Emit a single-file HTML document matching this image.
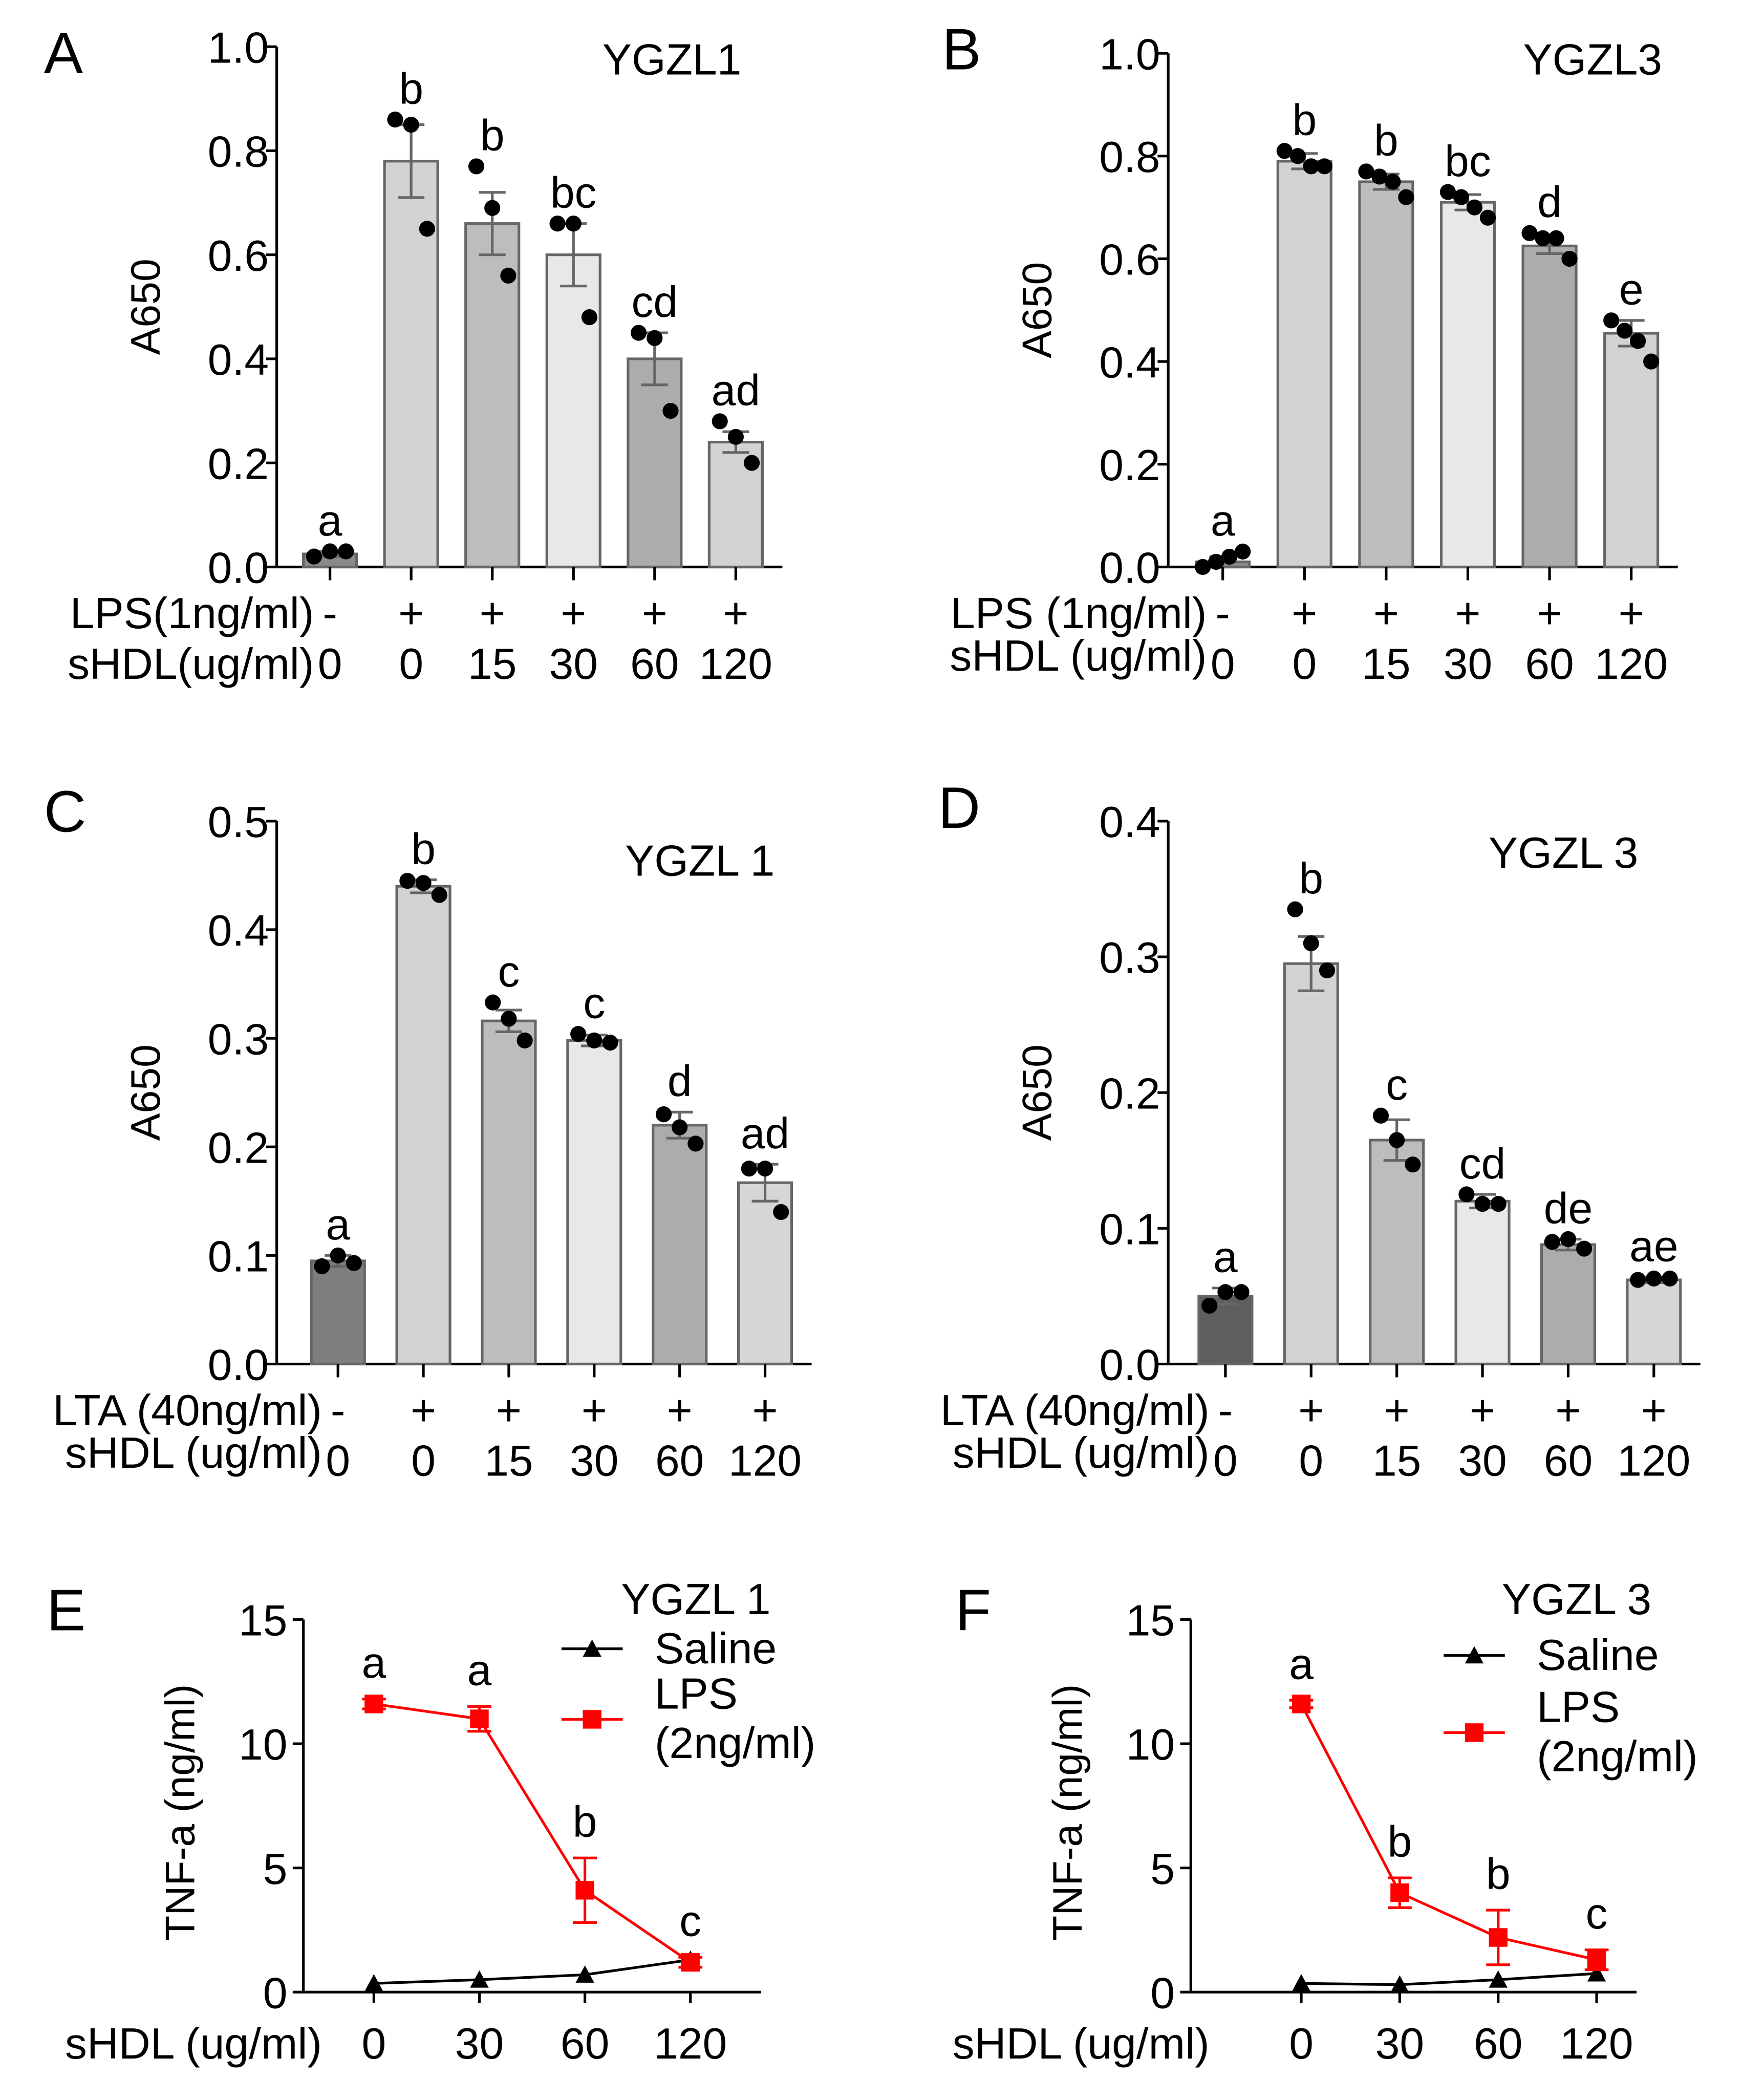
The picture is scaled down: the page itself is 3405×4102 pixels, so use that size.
<!DOCTYPE html>
<html><head><meta charset="utf-8"><style>
html,body{margin:0;padding:0;background:#fff;}
svg{display:block;}
text{font-family:"Liberation Sans",Arial,sans-serif;fill:#000;}
</style></head><body>
<svg id="fig" width="3405" height="4102" viewBox="0 0 1310 1578" xmlns="http://www.w3.org/2000/svg"></svg>
<script>
// ---- Panel A data ----
const aVals=[0.025,0.78,0.66,0.60,0.40,0.24];
const aErr=[0.005,0.07,0.06,0.06,0.05,0.02];
const aPts=[[0.02,0.03,0.03],[0.86,0.85,0.65],[0.77,0.69,0.56],[0.66,0.66,0.48],[0.45,0.44,0.30],[0.28,0.25,0.20]];
const aLetters=["a","b","b","bc","cd","ad"];
const aTicks=["0.0","0.2","0.4","0.6","0.8","1.0"];
// ---- Panel B data ----
const bVals=[0.01,0.79,0.75,0.71,0.625,0.455];
const bErr=[0.01,0.015,0.015,0.015,0.015,0.025];
const bPts=[[0.0,0.01,0.02,0.03],[0.81,0.80,0.78,0.78],[0.77,0.76,0.75,0.72],[0.73,0.72,0.70,0.68],[0.65,0.64,0.64,0.60],[0.48,0.46,0.44,0.40]];
const bLetters=["a","b","b","bc","d","e"];
const bTicks=["0.0","0.2","0.4","0.6","0.8","1.0"];
// ---- Panel C data ----
const cVals=[0.095,0.44,0.316,0.298,0.22,0.167];
const cErr=[0.005,0.006,0.01,0.005,0.012,0.017];
const cPts=[[0.09,0.10,0.093],[0.445,0.443,0.432],[0.333,0.318,0.298],[0.304,0.298,0.296],[0.23,0.218,0.203],[0.18,0.18,0.14]];
const cLetters=["a","b","c","c","d","ad"];
const cTicks=["0.0","0.1","0.2","0.3","0.4","0.5"];
// ---- Panel D data ----
const dVals=[0.05,0.295,0.165,0.12,0.088,0.062];
const dErr=[0.006,0.02,0.015,0.005,0.004,0.002];
const dPts=[[0.043,0.053,0.053],[0.335,0.31,0.29],[0.183,0.165,0.147],[0.125,0.118,0.118],[0.09,0.092,0.085],[0.062,0.063,0.063]];
const dLetters=["a","b","c","cd","de","ae"];
const dTicks=["0.0","0.1","0.2","0.3","0.4"];
const sHDLbar=["0","0","15","30","60","120"];
const plusRow=["-","+","+","+","+","+"];
// ---- Panel E/F data ----
const doseLabels=["0","30","60","120"];
const eLPS=[11.6,11.0,4.1,1.2];
const eLPSerr=[0.2,0.5,1.3,0.2];
const eSal=[0.35,0.5,0.7,1.3];
const eLetters=["a","a","b","c"];
const fLPS=[11.6,4.0,2.2,1.3];
const fLPSerr=[0.15,0.6,1.1,0.4];
const fSal=[0.35,0.3,0.5,0.75];
const fLetters=["a","b","b","c"];
const lineTicks=["0","5","10","15"];

const FS=33;
const NS="http://www.w3.org/2000/svg";
const svg=document.getElementById('fig');
function mk(tag,attrs,parent,txt){const e=document.createElementNS(NS,tag);for(const k in attrs)e.setAttribute(k,attrs[k]);if(txt!==undefined)e.textContent=txt;(parent||svg).appendChild(e);return e;}

function barPanel(o){
  const g=mk('g',{});
  
  
  const y=v=>o.y0-(v/o.ymax)*(o.y0-o.ytop);
  const x=i=>o.x0+o.first+i*o.step;
  const ax=mk('line',{x1:o.x0,y1:o.ytop,x2:o.x0,y2:o.y0,stroke:'#000','stroke-width':2},g);
  
  const xa=mk('line',{x1:o.x0,y1:o.y0,x2:o.x0+o.first+5*o.step+35,y2:o.y0,stroke:'#000','stroke-width':2},g);
  
  o.ticks.forEach((t,k)=>{const v=parseFloat(t);const yy=y(v);
    mk('line',{x1:o.x0-8,y1:yy,x2:o.x0,y2:yy,stroke:'#000','stroke-width':2},g);
    const tl=mk('text',{x:o.x0-6,y:yy+12,'font-size':FS,'text-anchor':'end'},g,t);
    });
  const yl=mk('text',{x:0,y:0,'font-size':31,'text-anchor':'middle',transform:`translate(${o.x0-88},${(o.y0+o.ytop)/2}) rotate(-90)`},g,'A650');
  
  o.vals.forEach((v,i)=>{const cx=x(i);
    const r=mk('rect',{x:cx-20,y:y(v),width:40,height:o.y0-y(v),fill:o.colors[i],stroke:'#666','stroke-width':2},g);
    
    const e1=y(v+o.err[i]),e2=y(v-o.err[i]);
    mk('line',{x1:cx,y1:e1,x2:cx,y2:e2,stroke:'#666','stroke-width':2},g);
    mk('line',{x1:cx-10,y1:e1,x2:cx+10,y2:e1,stroke:'#666','stroke-width':2},g);
    mk('line',{x1:cx-10,y1:e2,x2:cx+10,y2:e2,stroke:'#666','stroke-width':2},g);
    const n=o.pts[i].length;
    o.pts[i].forEach((p,j)=>{const dx=(j-(n-1)/2)*(n>3?10:12);
      const c=mk('circle',{cx:cx+dx,cy:y(p),r:6,fill:'#000'},g);
      });
    const top=Math.min(y(v+o.err[i]),...o.pts[i].map(y));
    const lt=mk('text',{x:cx,y:top-12,'font-size':FS,'text-anchor':'middle'},g,o.letters[i]);
    
    mk('line',{x1:cx,y1:o.y0,x2:cx,y2:o.y0+10,stroke:'#000','stroke-width':2},g);
    const pl=mk('text',{x:cx,y:o.y0+46,'font-size':FS,'text-anchor':'middle'},g,plusRow[i]);
    
    const sl=mk('text',{x:cx,y:o.y0+84,'font-size':FS,'text-anchor':'middle'},g,sHDLbar[i]);
    
  });
  const r1=mk('text',{x:x(0)-12,y:o.y0+46,'font-size':FS,'text-anchor':'end'},g,o.row1);
  
  const r2=mk('text',{x:x(0)-12,y:o.y0+84+(o.r2dy||0),'font-size':FS,'text-anchor':'end'},g,o.row2);
  
  const tt=mk('text',{x:o.tx,y:o.ty,'font-size':FS,'text-anchor':'middle'},g,o.title);
  
  const pl=mk('text',{x:o.lx,y:o.ly,'font-size':44},g,o.letter);
  
}

barPanel({name:'panel-a',x0:208,y0:426,ytop:35,ymax:1.0,first:40,step:61,vals:aVals,err:aErr,pts:aPts,letters:aLetters,ticks:aTicks,
  colors:['#8a8a8a','#d2d2d4','#bdbdbd','#e8e8e8','#acacac','#d2d2d4'],row1:'LPS(1ng/ml)',row2:'sHDL(ug/ml)',title:'YGZL1',tx:505,ty:56,letter:'A',lx:33,ly:55});
barPanel({name:'panel-b',x0:878,y0:426,ytop:40,ymax:1.0,first:41,step:61.4,vals:bVals,err:bErr,pts:bPts,letters:bLetters,ticks:bTicks,r2dy:-6,
  colors:['#8a8a8a','#d2d2d4','#bdbdbd','#e8e8e8','#acacac','#d2d2d4'],row1:'LPS (1ng/ml)',row2:'sHDL (ug/ml)',title:'YGZL3',tx:1197,ty:56,letter:'B',lx:708,ly:52});
barPanel({name:'panel-c',x0:208,y0:1025,ytop:617,ymax:0.5,first:46,step:64.2,vals:cVals,err:cErr,pts:cPts,letters:cLetters,ticks:cTicks,r2dy:-6,
  colors:['#7e7e7e','#d2d2d4','#bdbdbd','#e8e8e8','#acacac','#d6d6d6'],row1:'LTA (40ng/ml)',row2:'sHDL (ug/ml)',title:'YGZL 1',tx:526,ty:658,letter:'C',lx:33,ly:625});
barPanel({name:'panel-d',x0:878,y0:1025,ytop:617,ymax:0.4,first:43,step:64.4,vals:dVals,err:dErr,pts:dPts,letters:dLetters,ticks:dTicks,r2dy:-6,
  colors:['#5e5e5e','#d2d2d4','#bdbdbd','#e8e8e8','#acacac','#d6d6d6'],row1:'LTA (40ng/ml)',row2:'sHDL (ug/ml)',title:'YGZL 3',tx:1175,ty:652,letter:'D',lx:705,ly:622});

function linePanel(o){
  const g=mk('g',{});
  
  
  const y=v=>o.y0-(v/15)*(o.y0-o.ytop);
  const x=i=>o.xs0+i*o.step;
  mk('line',{x1:o.x0,y1:o.ytop,x2:o.x0,y2:o.y0,stroke:'#000','stroke-width':2},g);
  mk('line',{x1:o.x0,y1:o.y0,x2:o.xend,y2:o.y0,stroke:'#000','stroke-width':2},g);
  lineTicks.forEach(t=>{const yy=y(parseFloat(t));
    mk('line',{x1:o.x0-8,y1:yy,x2:o.x0,y2:yy,stroke:'#000','stroke-width':2},g);
    const tl=mk('text',{x:o.x0-12,y:yy+12,'font-size':FS,'text-anchor':'end'},g,t);
    });
  const yl=mk('text',{x:0,y:0,'font-size':31,'text-anchor':'middle',transform:`translate(${o.x0-82},${(o.y0+o.ytop)/2+5}) rotate(-90)`},g,'TNF-a (ng/ml)');
  
  doseLabels.forEach((d,i)=>{mk('line',{x1:x(i),y1:o.y0,x2:x(i),y2:o.y0+8,stroke:'#000','stroke-width':2},g);
    const t=mk('text',{x:x(i),y:o.y0+50,'font-size':FS,'text-anchor':'middle'},g,d);
    });
  const xl=mk('text',{x:o.x0+14,y:o.y0+50,'font-size':FS,'text-anchor':'end'},g,'sHDL (ug/ml)');
  
  const sp=mk('polyline',{points:o.sal.map((v,i)=>x(i)+','+y(v)).join(' '),fill:'none',stroke:'#000','stroke-width':2},g);
  
  o.sal.forEach((v,i)=>{const t=mk('polygon',{points:`${x(i)-7},${y(v)+6} ${x(i)+7},${y(v)+6} ${x(i)},${y(v)-7}`,fill:'#000'},g);
    });
  const lp=mk('polyline',{points:o.lps.map((v,i)=>x(i)+','+y(v)).join(' '),fill:'none',stroke:'#f00','stroke-width':2},g);
  
  o.lps.forEach((v,i)=>{const e1=y(v+o.err[i]),e2=y(v-o.err[i]);
    mk('line',{x1:x(i),y1:e1,x2:x(i),y2:e2,stroke:'#f00','stroke-width':2},g);
    mk('line',{x1:x(i)-9,y1:e1,x2:x(i)+9,y2:e1,stroke:'#f00','stroke-width':2},g);
    mk('line',{x1:x(i)-9,y1:e2,x2:x(i)+9,y2:e2,stroke:'#f00','stroke-width':2},g);
    const s=mk('rect',{x:x(i)-7,y:y(v)-7,width:14,height:14,fill:'#f00'},g);
    
    const lt=mk('text',{x:x(i),y:y(v+o.err[i])-16,'font-size':FS,'text-anchor':'middle'},g,o.letters[i]);
    });
  const L=o.leg;
  mk('line',{x1:L.x,y1:L.y,x2:L.x+46,y2:L.y,stroke:'#000','stroke-width':2},g);
  mk('polygon',{points:`${L.x+16},${L.y+6} ${L.x+30},${L.y+6} ${L.x+23},${L.y-7}`,fill:'#000'},g);
  const l1=mk('text',{x:L.x+70,y:L.y+11,'font-size':FS},g,'Saline');
  
  mk('line',{x1:L.x,y1:L.y+L.dy,x2:L.x+46,y2:L.y+L.dy,stroke:'#f00','stroke-width':2},g);
  mk('rect',{x:L.x+16,y:L.y+L.dy-7,width:14,height:14,fill:'#f00'},g);
  const l2=mk('text',{x:L.x+70,y:L.y+L.dy-8,'font-size':FS},g,'LPS');
  
  mk('text',{x:L.x+70,y:L.y+L.dy+29,'font-size':FS},g,'(2ng/ml)');
  const tt=mk('text',{x:o.tx,y:o.ty,'font-size':FS,'text-anchor':'middle'},g,o.title);
  
  const pl=mk('text',{x:o.lx,y:o.ly,'font-size':44},g,o.letter);
  
}
linePanel({name:'panel-e',x0:228,y0:1497,ytop:1217,xs0:281,step:79.3,xend:572,lps:eLPS,err:eLPSerr,sal:eSal,letters:eLetters,
  leg:{x:422,y:1239,dy:53},title:'YGZL 1',tx:523,ty:1213,letter:'E',lx:35,ly:1225});
linePanel({name:'panel-f',x0:895,y0:1497,ytop:1217,xs0:978,step:74,xend:1230,lps:fLPS,err:fLPSerr,sal:fSal,letters:fLetters,
  leg:{x:1085,y:1244,dy:58},title:'YGZL 3',tx:1185,ty:1213,letter:'F',lx:718,ly:1225});
</script>
</body></html>
